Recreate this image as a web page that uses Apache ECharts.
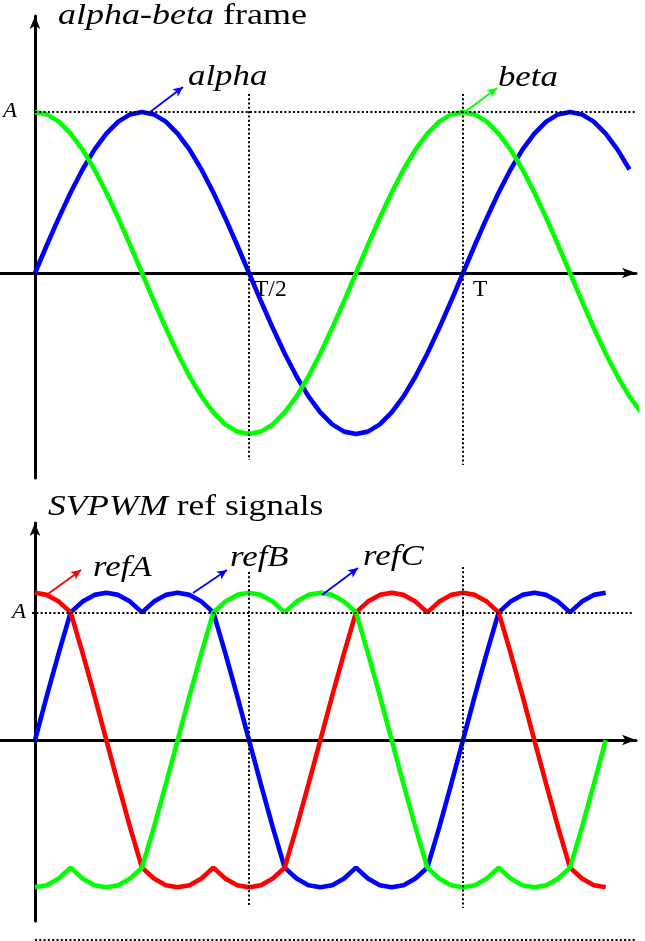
<!DOCTYPE html>
<html><head><meta charset="utf-8">
<script src="https://cdn.jsdelivr.net/npm/echarts@6/dist/echarts.min.js"></script>
<style>html,body{margin:0;padding:0;background:#fff}#c{width:645px;height:941px}</style>
</head><body><div id="c"></div>
<script>
// ---------- data (angle in degrees, T = 360) ----------
const alphaT = [0,10,20,30,40,50,60,70,80,90,100,110,120,130,140,150,160,170,180,190,200,210,220,230,240,250,260,270,280,290,300,310,320,330,340,350,360,370,380,390,400,410,420,430,440,450,460,470,480,490,500];
const alphaV = [0,.174,.342,.5,.643,.766,.866,.94,.985,1,.985,.94,.866,.766,.643,.5,.342,.174,
  0,-.174,-.342,-.5,-.643,-.766,-.866,-.94,-.985,-1,-.985,-.94,-.866,-.766,-.643,-.5,-.342,-.174,
  0,.174,.342,.5,.643,.766,.866,.94,.985,1,.985,.94,.866,.766,.643];
const betaT = [0,10,20,30,40,50,60,70,80,90,100,110,120,130,140,150,160,170,180,190,200,210,220,230,240,250,260,270,280,290,300,310,320,330,340,350,360,370,380,390,400,410,420,430,440,450,460,470,480,490,500,510];
const betaV = [1,.985,.94,.866,.766,.643,.5,.342,.174,
  0,-.174,-.342,-.5,-.643,-.766,-.866,-.94,-.985,
  -1,-.985,-.94,-.866,-.766,-.643,-.5,-.342,-.174,
  0,.174,.342,.5,.643,.766,.866,.94,.985,
  1,.985,.94,.866,.766,.643,.5,.342,.174,
  0,-.174,-.342,-.5,-.643,-.766,-.866];
const refT = [0,10,20,30,40,50,60,70,80,90,100,110,120,130,140,150,160,170,180,190,200,210,220,230,240,250,260,270,280,290,300,310,320,330,340,350,360,370,380,390,400,410,420,430,440,450,460,470,480];
const refA = [1.16,1.143,1.09,1.005,.687,.349,
  0,-.349,-.687,-1.005,-1.09,-1.143,-1.16,-1.143,-1.09,-1.005,
  -1.09,-1.143,-1.16,-1.143,-1.09,-1.005,-.687,-.349,
  0,.349,.687,1.005,1.09,1.143,1.16,1.143,1.09,1.005,
  1.09,1.143,1.16,1.143,1.09,1.005,.687,.349,
  0,-.349,-.687,-1.005,-1.09,-1.143,-1.16];
const refB = [0,.349,.687,1.005,1.09,1.143,1.16,1.143,1.09,1.005,
  1.09,1.143,1.16,1.143,1.09,1.005,.687,.349,
  0,-.349,-.687,-1.005,-1.09,-1.143,-1.16,-1.143,-1.09,-1.005,
  -1.09,-1.143,-1.16,-1.143,-1.09,-1.005,-.687,-.349,
  0,.349,.687,1.005,1.09,1.143,1.16,1.143,1.09,1.005,
  1.09,1.143,1.16];
const refC = [-1.16,-1.143,-1.09,-1.005,-1.09,-1.143,-1.16,-1.143,-1.09,-1.005,
  -.687,-.349,
  0,.349,.687,1.005,1.09,1.143,1.16,1.143,1.09,1.005,
  1.09,1.143,1.16,1.143,1.09,1.005,.687,.349,
  0,-.349,-.687,-1.005,-1.09,-1.143,-1.16,-1.143,-1.09,-1.005,
  -1.09,-1.143,-1.16,-1.143,-1.09,-1.005,-.687,-.349,
  0];
const xTickValues = [180, 360];
const xTickLabels = ['T/2', 'T'];
const ampValue = 1;
const ampLabel = 'A';
const titles = ['alpha-beta', 'frame', 'SVPWM', 'ref signals'];
const seriesNames = ['alpha', 'beta', 'refA', 'refB', 'refC'];

// ---------- layout / annotations (not data) ----------
const topGuides = [
  [[0, 1], [505, 1]], [[3, -1], [510, -1]],
  [[180, 1.112], [180, -1.161]], [[360, 1.112], [360, -1.193]]
];
const botGuides = [
  [[-2.5, 1], [503, 1]], [[4, -1], [509, -1]],
  [[180, 1.323], [180, -1.315]], [[360, 1.362], [360, -1.323]]
];
const extraGuideEnds = [0, 513];
const arrowsTop = { alpha: [[96.7, 1.0], [124.5, 1.155]], beta: [[361.7, 1.0], [388.6, 1.149]] };
const arrowsBot = { refA: [[10.9, 1.15], [38.7, 1.339]], refB: [[132.9, 1.157], [161.5, 1.339]], refC: [[241.4, 1.142], [271.7, 1.354]] };
const labelPos = [
  {g: 0, c: [128.7, 1.216]}, {g: 0, c: [389.4, 1.21]},
  {g: 1, c: [48.8, 1.353]}, {g: 1, c: [164.0, 1.431]}, {g: 1, c: [275.9, 1.439]}
];

const BLUE = '#0000ff', GREEN = '#00ff00', RED = '#ff0000', BLACK = '#000';
const serif = '"Liberation Serif", "Times New Roman", serif';
const XMIN = -29.44, XMAX = 505.5;
const DOT = [2, 2.3];

function zip(t, v) { return t.map((x, i) => [x, v[i]]); }
function guides(lines) {
  return { silent: true, animation: false, symbol: ['none', 'none'], label: { show: false },
    emphasis: { disabled: true },
    lineStyle: { color: BLACK, width: 2, type: DOT, opacity: 1 },
    data: lines.map(l => [{ coord: l[0] }, { coord: l[1] }]) };
}
function arrows(list) {
  return { silent: true, animation: false, symbol: ['none', 'arrow'], symbolSize: [7, 10], label: { show: false },
    emphasis: { disabled: true },
    data: list.map(a => [{ coord: a.l[0], lineStyle: { color: a.c, width: 1.8, type: 'solid', opacity: 1 } },
                         { coord: a.l[1], itemStyle: { color: a.c } }]) };
}
function curve(name, xi, yi, data, color, extra) {
  return Object.assign({ name, type: 'line', xAxisIndex: xi, yAxisIndex: yi, data, showSymbol: false, symbol: 'none',
    clip: false, animation: false, z: 3, emphasis: { disabled: true },
    lineStyle: { color, width: 4.6 } }, extra || {});
}
function xAxis(gi) {
  return { type: 'value', gridIndex: gi, min: XMIN, max: XMAX, show: gi < 2,
    splitLine: { show: false }, axisTick: { show: false }, axisLabel: { show: false },
    axisLine: { onZero: true, symbol: ['none', 'arrow'], symbolSize: [8, 14], lineStyle: { color: BLACK, width: 3 } } };
}
function yAxis(gi, min, max) {
  return { type: 'value', gridIndex: gi, min, max, show: gi < 2,
    splitLine: { show: false }, axisTick: { show: false }, axisLabel: { show: false },
    axisLine: { onZero: true, symbol: ['none', 'arrow'], symbolSize: [8, 13], lineStyle: { color: BLACK, width: 3 } } };
}
const gridBase = { containLabel: false, outerBoundsMode: 'none' };

const chart = echarts.init(document.getElementById('c'), null, { renderer: 'canvas' });
chart.setOption({
  animation: false,
  backgroundColor: '#fff',
  grid: [
    Object.assign({ left: 0, width: 636, top: 16, height: 462 }, gridBase),
    Object.assign({ left: 0, width: 636, top: 523, height: 398 }, gridBase),
    Object.assign({ left: 0, width: 636, top: 900, height: 40 }, gridBase)
  ],
  xAxis: [xAxis(0), xAxis(1), xAxis(2)],
  yAxis: [yAxis(0, -1.273, 1.596), yAxis(1, -1.425, 1.709), yAxis(2, 0, 1)],
  series: [
    { type: 'line', xAxisIndex: 0, yAxisIndex: 0, data: [], z: 1, markLine: guides(topGuides) },
    curve(seriesNames[0], 0, 0, zip(alphaT, alphaV), BLUE, { markLine: arrows([{ l: arrowsTop.alpha, c: BLUE }]) }),
    curve(seriesNames[1], 0, 0, zip(betaT, betaV), GREEN, { markLine: arrows([{ l: arrowsTop.beta, c: GREEN }]) }),
    { type: 'line', xAxisIndex: 1, yAxisIndex: 1, data: [], z: 1, markLine: guides(botGuides) },
    curve(seriesNames[3], 1, 1, zip(refT, refB), BLUE, { markLine: arrows([{ l: arrowsBot.refB, c: BLUE }, { l: arrowsBot.refC, c: BLUE }]) }),
    curve(seriesNames[2], 1, 1, zip(refT, refA), RED, { markLine: arrows([{ l: arrowsBot.refA, c: RED }]) }),
    curve(seriesNames[4], 1, 1, zip(refT, refC), GREEN),
    { type: 'line', xAxisIndex: 2, yAxisIndex: 2, data: extraGuideEnds.map(x => [x, 0]), showSymbol: false, symbol: 'none',
      clip: false, z: 1, silent: true, emphasis: { disabled: true },
      lineStyle: { color: BLACK, width: 2, type: DOT } }
  ]
});

// text annotations anchored through the chart's own coordinate conversion
const gfx = [];
function txt(x, y, text, size, opts) {
  gfx.push(Object.assign({ type: 'text', x, y, z: 10,
    style: Object.assign({ text, fontFamily: serif, fontSize: size, fill: BLACK, verticalAlign: 'middle', align: 'left' }, opts && opts.style) },
    opts && opts.el));
}
txt(58, 16, '{i|' + titles[0] + '} ' + titles[1], 30, { el: { scaleX: 1.2 },
  style: { rich: { i: { fontStyle: 'italic', fontFamily: serif, fontSize: 30, fill: BLACK } } } });
txt(48, 507, '{i|' + titles[2] + '} ' + titles[3], 29.5, { el: { scaleX: 1.2 },
  style: { rich: { i: { fontStyle: 'italic', fontFamily: serif, fontSize: 29.5, fill: BLACK } } } });
labelPos.forEach((lp, i) => {
  const p = chart.convertToPixel({ gridIndex: lp.g }, lp.c);
  txt(p[0], p[1], seriesNames[i], 29, { el: { scaleX: 1.2 }, style: { fontStyle: 'italic' } });
});
// amplitude labels on the y axes
[[0, 18], [1, 9]].forEach(([g, off]) => {
  const p = chart.convertToPixel({ gridIndex: g }, [0, ampValue]);
  txt(p[0] - off, p[1], ampLabel, 20, { el: { scaleX: 1.15 }, style: { fontStyle: 'italic', align: 'right' } });
});
// period labels under the top x axis
xTickValues.forEach((v, i) => {
  const p = chart.convertToPixel({ gridIndex: 0 }, [v, 0]);
  txt(p[0] + (i === 0 ? 5 : 10), p[1] + 5, xTickLabels[i], 23.5, { style: { verticalAlign: 'top' } });
});
chart.setOption({ graphic: gfx });
</script>
</body></html>
